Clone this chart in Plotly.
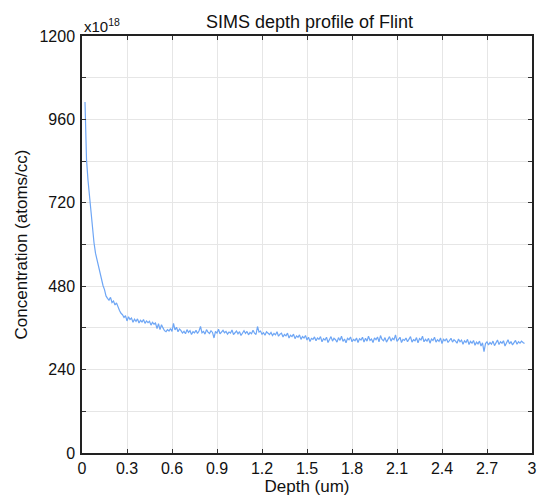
import numpy as np
import plotly.graph_objects as go

depth_start = 0.02
depth_step = 0.01

concentration = [
    # 0.02 - 0.65
    1010, 845, 785, 735, 690, 650, 605, 575, 555, 535,
    515, 497, 482, 470, 452, 445, 440, 448, 433, 437,
    426, 432, 418, 410, 402, 398, 390, 395, 380, 392,
    384, 388, 376, 385, 379, 386, 374, 382, 377, 384,
    373, 380, 375, 379, 368, 376, 371, 374, 358, 372,
    355, 369, 360, 352, 349, 355, 351, 358, 350, 373,
    354, 362, 349, 357,
    # 0.66 - 0.95
    352, 345, 350, 343, 355, 347, 352, 341, 349, 346, 353, 344, 351, 364, 346,
    350, 342, 355, 348, 344, 352, 347, 331, 350, 345, 356, 343, 349, 353, 346,
    # 0.96 - 1.25
    350, 342, 348, 345, 354, 341, 347, 351, 343, 349, 338, 346, 352, 344, 350,
    340, 347, 343, 353, 345, 341, 364, 348, 351, 342, 346, 339, 349, 344, 341,
    # 1.26 - 1.55
    347, 338, 344, 340, 349, 336, 342, 345, 334, 341, 337, 345, 331, 339, 335,
    342, 329, 337, 333, 340, 327, 335, 331, 338, 325, 333, 321, 330, 327, 334,
    # 1.56 - 1.85
    323, 331, 327, 335, 320, 329, 325, 333, 318, 327, 335, 322, 330, 326, 319,
    332, 324, 336, 321, 328, 317, 330, 326, 334, 320, 327, 323, 331, 318, 329,
    # 1.86 - 2.15
    325, 333, 319, 330, 322, 336, 324, 328, 318, 331, 326, 334, 320, 338, 327,
    323, 332, 319, 329, 335, 322, 330, 326, 340, 321, 328, 333, 318, 327, 324,
    # 2.16 - 2.45
    331, 320, 328, 335, 319, 326, 323, 332, 317, 329, 325, 336, 320, 327, 322,
    330, 316, 328, 324, 333, 319, 326, 321, 331, 315, 327, 323, 329, 318, 325,
    # 2.46 - 2.75
    330, 319, 326, 322, 316, 328, 320, 325, 313, 323, 318, 327, 312, 321, 316,
    324, 310, 319, 314, 322, 308, 317, 292, 315, 320, 311, 318, 313, 322, 309,
    # 2.76 - 2.95
    317, 325, 312, 320, 316, 323, 308, 318, 326, 314,
    321, 311, 319, 324, 313, 320, 316, 322, 318, 315,
]

depth = np.round(depth_start + depth_step * np.arange(len(concentration)), 3)

x_ticks = [0, 0.3, 0.6, 0.9, 1.2, 1.5, 1.8, 2.1, 2.4, 2.7, 3]
x_tick_labels = ["0", "0.3", "0.6", "0.9", "1.2", "1.5", "1.8", "2.1", "2.4", "2.7", "3"]
y_ticks = [0, 240, 480, 720, 960, 1200]
y_tick_labels = ["0", "240", "480", "720", "960", "1200"]
y_minor_ticks = [120, 360, 600, 840, 1080]

title_text = "SIMS depth profile of Flint"
x_title = "Depth (um)"
y_title = "Concentration (atoms/cc)"
exponent_text = "x10<sup>18</sup>"

font_family = "Liberation Sans, Arial, Helvetica, sans-serif"

fig = go.Figure()
fig.add_trace(go.Scatter(
    x=depth, y=concentration, mode="lines",
    line=dict(color="#6ea6f5", width=1.2),
    showlegend=False,
))

fig.update_layout(
    width=543, height=500,
    margin=dict(l=82, r=6, t=36, b=47),
    paper_bgcolor="white", plot_bgcolor="white",
    font=dict(family=font_family, color="#111111", size=16),
    title=dict(text=title_text, x=(82 + 537) / 2 / 543, xanchor="center",
               y=1 - 22 / 500, yanchor="middle", font=dict(size=18)),
)

fig.update_xaxes(
    range=[0, 3], tickvals=x_ticks, ticktext=x_tick_labels,
    showgrid=True, gridcolor="#e6e6e6", gridwidth=1,
    showline=True, linecolor="#222222", linewidth=1.5, mirror="ticks",
    ticks="inside", ticklen=4, tickcolor="#333333",
    zeroline=False, tickfont=dict(size=16),
    title=dict(text=x_title, font=dict(size=17), standoff=4),
)
fig.update_yaxes(
    range=[0, 1200], tickvals=y_ticks, ticktext=y_tick_labels,
    showgrid=True, gridcolor="#e6e6e6", gridwidth=1,
    minor=dict(tickvals=y_minor_ticks, showgrid=True,
               gridcolor="#e6e6e6", ticks="inside", ticklen=4, tickcolor="#333333"),
    showline=True, linecolor="#222222", linewidth=1.5, mirror="ticks",
    ticks="inside", ticklen=4, tickcolor="#333333",
    zeroline=False, tickfont=dict(size=16), ticklabelstandoff=2,
    title=dict(text=y_title, font=dict(size=17), standoff=8),
)

fig.add_annotation(
    text=exponent_text, xref="paper", yref="paper",
    x=0, y=1, xanchor="left", yanchor="bottom", yshift=-1,
    showarrow=False, font=dict(size=15),
)

fig.write_html("out.html")
